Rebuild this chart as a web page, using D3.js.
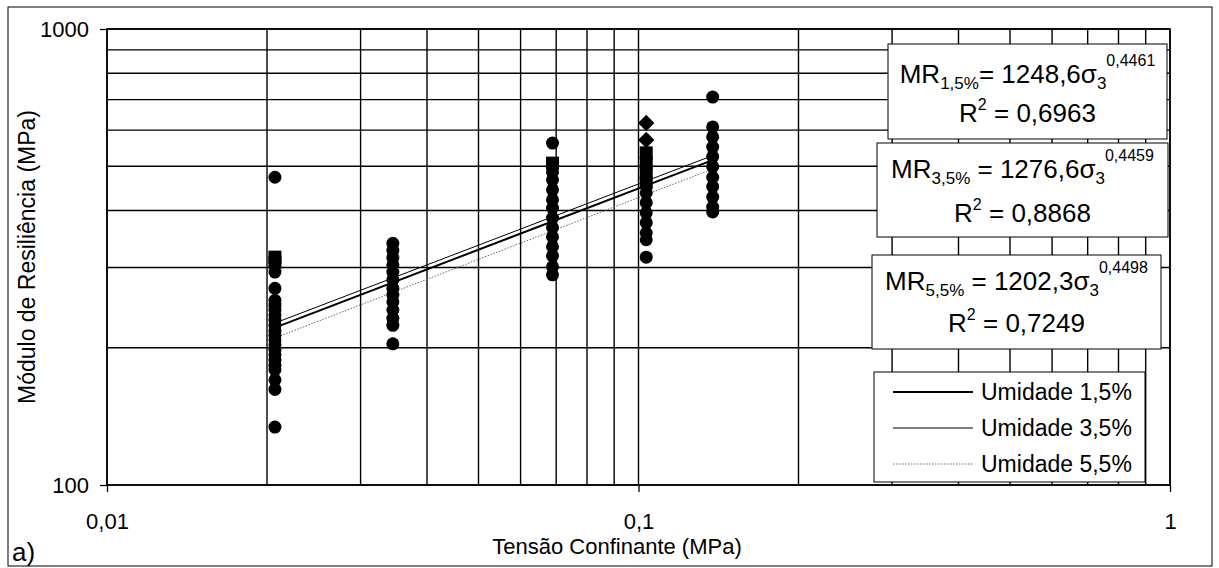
<!DOCTYPE html>
<html>
<head>
<meta charset="utf-8">
<script src="https://cdn.jsdelivr.net/npm/d3@7"></script>
<style>
  body { margin: 0; background: #fff; }
  svg text { font-family: "Liberation Sans", Arial, sans-serif; fill: #000; }
</style>
</head>
<body>
<script>
width = 1219;
height = 568;
margin = { top: 29, right: 49, bottom: 83, left: 107 }

// tensao confinante (MPa) of each load step
var sigma3 = [0.0207, 0.0345, 0.0689, 0.1034, 0.1379];

// points: [sigma3, MR]
var pontos15 = [
    [0.0207,473],[0.0207,293],[0.0207,270],[0.0207,254],[0.0207,248],[0.0207,242],[0.0207,236],
    [0.0207,230],[0.0207,224],[0.0207,218],[0.0207,213],[0.0207,208],[0.0207,203],[0.0207,198],
    [0.0207,193],[0.0207,188],[0.0207,183],[0.0207,179],[0.0207,170],[0.0207,162],[0.0207,134],
    [0.0345,339],[0.0345,327],[0.0345,315],[0.0345,304],[0.0345,293],[0.0345,282],[0.0345,270],
    [0.0345,261],[0.0345,252],[0.0345,242],[0.0345,232],[0.0345,224],[0.0345,204],
    [0.0689,562],[0.0689,486],[0.0689,467],[0.0689,444],[0.0689,422],[0.0689,405],[0.0689,385],
    [0.0689,367],[0.0689,350],[0.0689,333],[0.0689,318],[0.0689,301],[0.0689,289],
    [0.1034,437],[0.1034,416],[0.1034,395],[0.1034,376],[0.1034,357],[0.1034,345],[0.1034,316],
    [0.1379,709],[0.1379,610],[0.1379,580],[0.1379,551],[0.1379,525],[0.1379,499],[0.1379,473],
    [0.1379,451],[0.1379,428],[0.1379,407],[0.1379,397]
];
var pontos35 = [
    [0.0207,316],[0.0207,308],[0.0689,508],
    [0.1034,535],[0.1034,508],[0.1034,483],[0.1034,460]
];
var pontos55 = [
    [0.1034,622],[0.1034,571]
];

// fitted models MR = k1 * sigma3^k2
var modelos = [
    { nome: "Umidade 1,5%", sub: "1,5%", k1: 1248.6, k2: 0.4461, r2: "0,6963", eq: "= 1248,6σ" },
    { nome: "Umidade 3,5%", sub: "3,5%", k1: 1276.6, k2: 0.4459, r2: "0,8868", eq: " = 1276,6σ" },
    { nome: "Umidade 5,5%", sub: "5,5%", k1: 1202.3, k2: 0.4498, r2: "0,7249", eq: " = 1202,3σ" }
];
var estilos = [
    { stroke: "#000", width: 2, dash: null },
    { stroke: "#000", width: 1, dash: null },
    { stroke: "#666", width: 1, dash: "1.5,1.5" }
];

var xTicks = [0.01, 0.1, 1];
var yTicks = [100, 1000];

var x = d3.scaleLog()
    .domain([0.01, 1])
    .range([margin.left, width - margin.right]);
var y = d3.scaleLog()
    .domain([100, 1000])
    .range([height - margin.bottom, margin.top]);

var fmt = d => String(d).replace(".", ",");

const svg = d3.select("body").append("svg")
    .attr("width", width)
    .attr("height", height);

// outer frame
svg.append("rect")
    .attr("x", 8).attr("y", 7)
    .attr("width", 1204).attr("height", 559)
    .attr("fill", "white")
    .attr("stroke", "#000")
    .attr("stroke-width", 1);

// GRID
var grid = svg.append("g").attr("stroke", "#000").attr("stroke-width", 1.4);
grid.selectAll("line.vx")
    .data(x.ticks())
    .join("line")
    .attr("x1", d => x(d)).attr("x2", d => x(d))
    .attr("y1", y(1000)).attr("y2", y(100));
grid.selectAll("line.hy")
    .data(y.ticks())
    .join("line")
    .attr("y1", d => y(d)).attr("y2", d => y(d))
    .attr("x1", x(0.01)).attr("x2", x(1));

svg.append("rect")
    .attr("x", x(0.01)).attr("y", y(1000))
    .attr("width", x(1) - x(0.01))
    .attr("height", y(100) - y(1000))
    .attr("fill", "none")
    .attr("stroke", "#000")
    .attr("stroke-width", 1.6);

// AXES
var xAxis = g => g
    .attr("transform", `translate(0,${y(100)})`)
    .call(d3.axisBottom(x).tickValues(xTicks).tickFormat(fmt).tickSize(7).tickPadding(21))
    .call(g => g.select(".domain").remove())
    .call(g => g.selectAll("text").attr("font-size", 22).attr("font-family", "Liberation Sans, Arial"))
    .call(g => g.selectAll("line").attr("stroke-width", 1.3));
var yAxis = g => g
    .attr("transform", `translate(${x(0.01)},0)`)
    .call(d3.axisLeft(y).tickValues(yTicks).tickFormat(d => d).tickSize(7).tickPadding(11))
    .call(g => g.select(".domain").remove())
    .call(g => g.selectAll("text").attr("font-size", 22).attr("font-family", "Liberation Sans, Arial"))
    .call(g => g.selectAll("line").attr("stroke-width", 1.3));
svg.append("g").call(xAxis);
svg.append("g").call(yAxis);

svg.append("text")
    .attr("x", 617).attr("y", 554)
    .attr("text-anchor", "middle")
    .attr("font-size", 22)
    .text("Tensão Confinante (MPa)");
svg.append("text")
    .attr("transform", "translate(35,257) rotate(-90)")
    .attr("text-anchor", "middle")
    .attr("font-size", 23)
    .text("Módulo de Resiliência (MPa)");
svg.append("text")
    .attr("x", 12).attr("y", 561)
    .attr("font-size", 26)
    .text("a)");

// TREND LINES
var line = d3.line().x(d => x(d[0])).y(d => y(d[1]));
var ext = d3.extent(sigma3);
svg.append("g")
    .selectAll("path")
    .data(modelos)
    .join("path")
    .attr("fill", "none")
    .attr("stroke", (d, i) => estilos[i].stroke)
    .attr("stroke-width", (d, i) => estilos[i].width)
    .attr("stroke-dasharray", (d, i) => estilos[i].dash)
    .attr("d", m => line(ext.map(s => [s, m.k1 * Math.pow(s, m.k2)])));

// POINTS
svg.append("g")
    .selectAll("circle")
    .data(pontos15)
    .join("circle")
    .attr("cx", d => x(d[0]))
    .attr("cy", d => y(d[1]))
    .attr("r", 6.5)
    .attr("fill", "#000");
svg.append("g")
    .selectAll("rect")
    .data(pontos35)
    .join("rect")
    .attr("x", d => x(d[0]) - 6.5)
    .attr("y", d => y(d[1]) - 6.5)
    .attr("width", 13).attr("height", 13)
    .attr("fill", "#000");
svg.append("g")
    .selectAll("path")
    .data(pontos55)
    .join("path")
    .attr("transform", d => `translate(${x(d[0])},${y(d[1])})`)
    .attr("d", d3.symbol(d3.symbolDiamond2, 170))
    .attr("fill", "#000");

// EQUATION BOXES
var caixas = [
    { x0: 888, y0: 44, x1: 1167, y1: 139, b1: 83, b2: 122 },
    { x0: 877, y0: 143, x1: 1168, y1: 237, b1: 178, b2: 222 },
    { x0: 872, y0: 255, x1: 1161, y1: 349, b1: 290, b2: 332 }
];
modelos.forEach(function(m, i) {
    var c = caixas[i];
    var g = svg.append("g");
    g.append("rect")
        .attr("x", c.x0).attr("y", c.y0)
        .attr("width", c.x1 - c.x0).attr("height", c.y1 - c.y0)
        .attr("fill", "white").attr("stroke", "#000").attr("stroke-width", 1);
    var cx = (c.x0 + c.x1) / 2;
    var t = g.append("text")
        .attr("x", cx).attr("y", c.b1)
        .attr("text-anchor", "middle")
        .attr("font-size", 26)
        .attr("xml:space", "preserve");
    t.append("tspan").text("MR");
    t.append("tspan").attr("font-size", 17).attr("dy", 6).text(m.sub);
    t.append("tspan").attr("dy", -6).text(m.eq);
    t.append("tspan").attr("font-size", 17).attr("dy", 6).text("3");
    t.append("tspan").attr("font-size", 16).attr("dy", -23).text(fmt(m.k2));
    var t2 = g.append("text")
        .attr("x", cx).attr("y", c.b2)
        .attr("text-anchor", "middle")
        .attr("font-size", 26);
    t2.append("tspan").text("R");
    t2.append("tspan").attr("font-size", 16).attr("dy", -12).text("2");
    t2.append("tspan").attr("dy", 12).text(" = " + m.r2);
});

// LEGEND
var leg = svg.append("g");
leg.append("rect")
    .attr("x", 874).attr("y", 372)
    .attr("width", 271).attr("height", 110)
    .attr("fill", "white").attr("stroke", "#000").attr("stroke-width", 1);
var items = leg.selectAll("g.item")
    .data(modelos)
    .join("g")
    .attr("transform", (d, i) => `translate(0,${400 + 36 * i})`);
items.append("line")
    .attr("x1", 893).attr("x2", 973)
    .attr("y1", -8).attr("y2", -8)
    .attr("stroke", (d, i) => estilos[i].stroke)
    .attr("stroke-width", (d, i) => estilos[i].width)
    .attr("stroke-dasharray", (d, i) => estilos[i].dash);
items.append("text")
    .attr("x", 981)
    .attr("font-size", 23)
    .text(d => d.nome);
</script>
</body>
</html>
